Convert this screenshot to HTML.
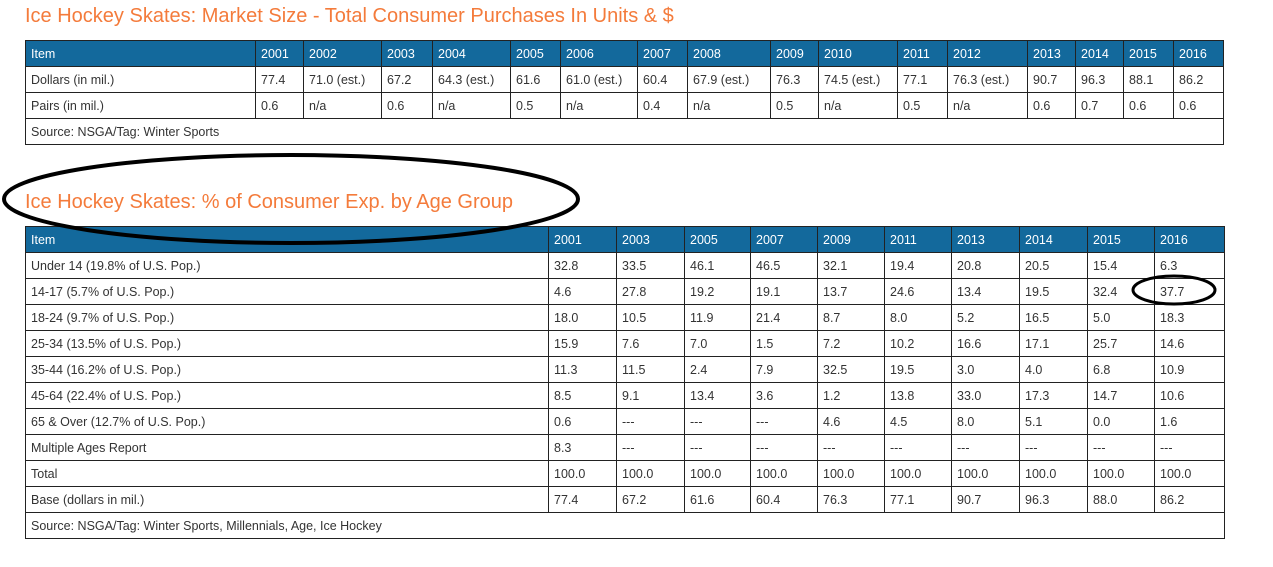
<!DOCTYPE html>
<html><head><meta charset="utf-8"><style>
body{margin:0;width:1273px;height:567px;background:#fff;position:relative;overflow:hidden;font-family:"Liberation Sans",sans-serif;color:#333}
h2{position:absolute;margin:0;font-weight:normal;color:#f47b3b;font-size:20px;white-space:nowrap}
table{position:absolute;left:25px;width:1199px;border-collapse:collapse;table-layout:fixed;font-size:12.5px}
td,th{border:1px solid #222;padding:0 5px;height:25px;text-align:left;font-weight:normal;white-space:nowrap;overflow:hidden}
th{background:#13699c;color:#fff}
svg{position:absolute;left:0;top:0}
</style></head><body>
<h2 style="left:25px;top:5px">Ice Hockey Skates: Market Size - Total Consumer Purchases In Units &amp; $</h2>
<table style="top:40px">
<colgroup><col style="width:230px"><col style="width:48px"><col style="width:78px"><col style="width:51px"><col style="width:78px"><col style="width:50px"><col style="width:77px"><col style="width:50px"><col style="width:83px"><col style="width:48px"><col style="width:79px"><col style="width:50px"><col style="width:80px"><col style="width:48px"><col style="width:48px"><col style="width:50px"><col style="width:50px"></colgroup>
<tr><th>Item</th><th>2001</th><th>2002</th><th>2003</th><th>2004</th><th>2005</th><th>2006</th><th>2007</th><th>2008</th><th>2009</th><th>2010</th><th>2011</th><th>2012</th><th>2013</th><th>2014</th><th>2015</th><th>2016</th></tr>
<tr><td>Dollars (in mil.)</td><td>77.4</td><td>71.0 (est.)</td><td>67.2</td><td>64.3 (est.)</td><td>61.6</td><td>61.0 (est.)</td><td>60.4</td><td>67.9 (est.)</td><td>76.3</td><td>74.5 (est.)</td><td>77.1</td><td>76.3 (est.)</td><td>90.7</td><td>96.3</td><td>88.1</td><td>86.2</td></tr>
<tr><td>Pairs (in mil.)</td><td>0.6</td><td>n/a</td><td>0.6</td><td>n/a</td><td>0.5</td><td>n/a</td><td>0.4</td><td>n/a</td><td>0.5</td><td>n/a</td><td>0.5</td><td>n/a</td><td>0.6</td><td>0.7</td><td>0.6</td><td>0.6</td></tr>
<tr><td colspan="17">Source: NSGA/Tag: Winter Sports</td></tr>
</table>
<h2 style="left:25px;top:191px">Ice Hockey Skates: % of Consumer Exp. by Age Group</h2>
<table style="top:226px">
<colgroup><col style="width:523px"><col style="width:68px"><col style="width:68px"><col style="width:66px"><col style="width:67px"><col style="width:67px"><col style="width:67px"><col style="width:68px"><col style="width:68px"><col style="width:67px"><col style="width:70px"></colgroup>
<tr><th>Item</th><th>2001</th><th>2003</th><th>2005</th><th>2007</th><th>2009</th><th>2011</th><th>2013</th><th>2014</th><th>2015</th><th>2016</th></tr>
<tr><td>Under 14 (19.8% of U.S. Pop.)</td><td>32.8</td><td>33.5</td><td>46.1</td><td>46.5</td><td>32.1</td><td>19.4</td><td>20.8</td><td>20.5</td><td>15.4</td><td>6.3</td></tr>
<tr><td>14-17 (5.7% of U.S. Pop.)</td><td>4.6</td><td>27.8</td><td>19.2</td><td>19.1</td><td>13.7</td><td>24.6</td><td>13.4</td><td>19.5</td><td>32.4</td><td>37.7</td></tr>
<tr><td>18-24 (9.7% of U.S. Pop.)</td><td>18.0</td><td>10.5</td><td>11.9</td><td>21.4</td><td>8.7</td><td>8.0</td><td>5.2</td><td>16.5</td><td>5.0</td><td>18.3</td></tr>
<tr><td>25-34 (13.5% of U.S. Pop.)</td><td>15.9</td><td>7.6</td><td>7.0</td><td>1.5</td><td>7.2</td><td>10.2</td><td>16.6</td><td>17.1</td><td>25.7</td><td>14.6</td></tr>
<tr><td>35-44 (16.2% of U.S. Pop.)</td><td>11.3</td><td>11.5</td><td>2.4</td><td>7.9</td><td>32.5</td><td>19.5</td><td>3.0</td><td>4.0</td><td>6.8</td><td>10.9</td></tr>
<tr><td>45-64 (22.4% of U.S. Pop.)</td><td>8.5</td><td>9.1</td><td>13.4</td><td>3.6</td><td>1.2</td><td>13.8</td><td>33.0</td><td>17.3</td><td>14.7</td><td>10.6</td></tr>
<tr><td>65 &amp; Over (12.7% of U.S. Pop.)</td><td>0.6</td><td>---</td><td>---</td><td>---</td><td>4.6</td><td>4.5</td><td>8.0</td><td>5.1</td><td>0.0</td><td>1.6</td></tr>
<tr><td>Multiple Ages Report</td><td>8.3</td><td>---</td><td>---</td><td>---</td><td>---</td><td>---</td><td>---</td><td>---</td><td>---</td><td>---</td></tr>
<tr><td>Total</td><td>100.0</td><td>100.0</td><td>100.0</td><td>100.0</td><td>100.0</td><td>100.0</td><td>100.0</td><td>100.0</td><td>100.0</td><td>100.0</td></tr>
<tr><td>Base (dollars in mil.)</td><td>77.4</td><td>67.2</td><td>61.6</td><td>60.4</td><td>76.3</td><td>77.1</td><td>90.7</td><td>96.3</td><td>88.0</td><td>86.2</td></tr>
<tr><td colspan="11">Source: NSGA/Tag: Winter Sports, Millennials, Age, Ice Hockey</td></tr>
</table>
<svg width="1273" height="567">
<ellipse cx="291" cy="199" rx="287" ry="44" fill="none" stroke="#000" stroke-width="4"/>
<ellipse cx="1174" cy="290" rx="41" ry="14" fill="none" stroke="#000" stroke-width="3"/>
</svg>
</body></html>
